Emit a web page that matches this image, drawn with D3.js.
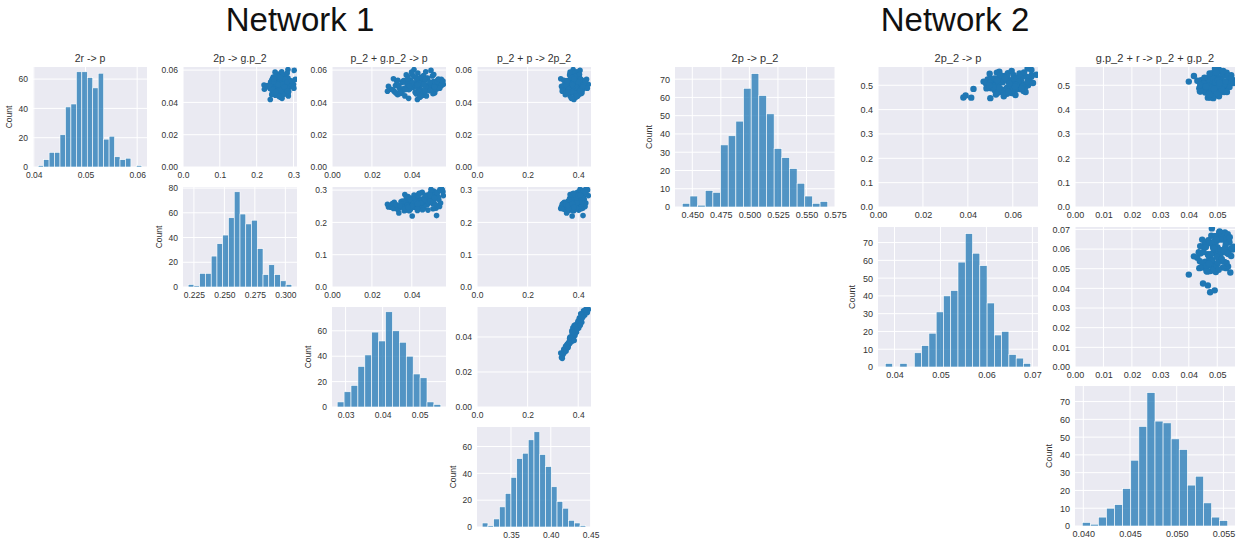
<!DOCTYPE html>
<html>
<head>
<meta charset="utf-8">
<script src="https://cdn.jsdelivr.net/npm/d3@7"></script>
<style>
  body { margin: 0; background: #fff; }
  svg { display: block; }
  text { font-family: Arial, "Liberation Sans", sans-serif; }
</style>
</head>
<body>
<svg id="chart" width="1239" height="542"></svg>
<script>
// ---------- data ----------
const net1Names = ['2r -> p', '2p -> g.p_2', 'p_2 + g.p_2 -> p', 'p_2 + p -> 2p_2'];
const net2Names = ['2p -> p_2', '2p_2 -> p', 'g.p_2 + r -> p_2 + g.p_2'];

// histogram counts, equal-width bins over [binLo, binHi]
const n1Counts = [
  [1, 5, 10, 10, 22, 41, 43, 65, 65, 61, 54, 64, 19, 21, 7, 5, 6, 0, 1],
  [2, 1, 11, 11, 25, 35, 42, 56, 77, 59, 51, 54, 31, 10, 18, 10, 5, 2],
  [4, 12, 17, 32, 41, 59, 52, 75, 60, 51, 40, 26, 23, 4, 2],
  [3, 1, 6, 15, 25, 37, 51, 55, 65, 71, 54, 45, 30, 19, 14, 5, 3, 1]
];
const n1BinRanges = [[0.04085, 0.0609], [0.2203, 0.3053], [0.02773, 0.05573], [0.3138, 0.4440]];

const n2Counts = [
  [2, 6, 1, 9, 8, 34, 39, 47, 65, 73, 61, 51, 32, 27, 21, 13, 6, 2, 3],
  [2, 0, 2, 0, 8, 12, 19, 31, 40, 43, 59, 75, 64, 57, 36, 18, 20, 7, 5, 2],
  [2, 1, 5, 10, 12, 21, 37, 56, 75, 59, 58, 49, 43, 23, 28, 13, 5, 3]
];
const n2BinRanges = [[0.4412, 0.5686], [0.03799, 0.06964], [0.03989, 0.05546]];

// tick labels
const n1HistTicks = [[0.04, 0.05, 0.06], [0.225, 0.25, 0.275, 0.3], [0.03, 0.04, 0.05], [0.35, 0.40, 0.45]];
const n1HistTickFmt = ['.2f', '.3f', '.2f', '.2f'];
const n1ScatterTicks = [[0, 0.02, 0.04, 0.06], [0, 0.1, 0.2, 0.3], [0, 0.02, 0.04], [0, 0.2, 0.4]];
const n1ScatterTickFmt = ['.2f', '.1f', '.2f', '.1f'];
const n1CountTicks = [[0, 20, 40, 60], [0, 20, 40, 60, 80], [0, 20, 40, 60], [0, 20, 40, 60]];

const n2HistTicks = [[0.45, 0.475, 0.5, 0.525, 0.55, 0.575], [0.04, 0.05, 0.06, 0.07], [0.04, 0.045, 0.05, 0.055]];
const n2HistTickFmt = ['.3f', '.2f', '.3f'];
const n2ScatterTicks = [[0, 0.1, 0.2, 0.3, 0.4, 0.5], [0, 0.02, 0.04, 0.06], [0, 0.01, 0.02, 0.03, 0.04, 0.05]];
const n2ScatterYTicks = [[0, 0.1, 0.2, 0.3, 0.4, 0.5], [0, 0.01, 0.02, 0.03, 0.04, 0.05, 0.06, 0.07]];
const n2ScatterTickFmt = ['.1f', '.2f', '.2f'];
const n2CountTicks = [[0, 10, 20, 30, 40, 50, 60, 70], [0, 10, 20, 30, 40, 50, 60, 70], [0, 10, 20, 30, 40, 50, 60, 70]];

// sampled rate constants (one row per sample), read off the scatter clouds
// network 1 columns: 2r -> p, 2p -> g.p_2, p_2 + g.p_2 -> p, p_2 + p -> 2p_2
const n1Samples = [
  [0.0502, 0.274, 0.0420, 0.384], [0.0478, 0.242, 0.0385, 0.371], [0.0531, 0.270, 0.0462, 0.398],
  [0.0455, 0.250, 0.0341, 0.356], [0.0519, 0.288, 0.0497, 0.409], [0.0493, 0.248, 0.0408, 0.379],
  [0.0547, 0.264, 0.0443, 0.386], [0.0468, 0.262, 0.0312, 0.345], [0.0511, 0.244, 0.0521, 0.418],
  [0.0486, 0.272, 0.0432, 0.392], [0.0575, 0.258, 0.0401, 0.374], [0.0440, 0.286, 0.0365, 0.368],
  [0.0506, 0.255, 0.0478, 0.401], [0.0524, 0.266, 0.0352, 0.361], [0.0497, 0.249, 0.0539, 0.427],
  [0.0462, 0.270, 0.0456, 0.392], [0.0538, 0.259, 0.0388, 0.369], [0.0481, 0.247, 0.0296, 0.338],
  [0.0515, 0.247, 0.0415, 0.381], [0.0590, 0.268, 0.0470, 0.395], [0.0452, 0.280, 0.0423, 0.387],
  [0.0529, 0.297, 0.0509, 0.412], [0.0491, 0.245, 0.0337, 0.352], [0.0557, 0.245, 0.0449, 0.389],
  [0.0473, 0.277, 0.0487, 0.406], [0.0509, 0.264, 0.0378, 0.372], [0.0418, 0.237, 0.0428, 0.383],
  [0.0543, 0.305, 0.0548, 0.433], [0.0499, 0.248, 0.0283, 0.334], [0.0466, 0.260, 0.0466, 0.399],
  [0.0534, 0.275, 0.0396, 0.377], [0.0488, 0.279, 0.0531, 0.421], [0.0603, 0.285, 0.0411, 0.380],
  [0.0447, 0.241, 0.0329, 0.349], [0.0517, 0.242, 0.0458, 0.394], [0.0495, 0.289, 0.0437, 0.388],
  [0.0563, 0.259, 0.0503, 0.404], [0.0476, 0.258, 0.0359, 0.363], [0.0528, 0.293, 0.0452, 0.397],
  [0.0459, 0.286, 0.0515, 0.415], [0.0504, 0.254, 0.0318, 0.343], [0.0539, 0.253, 0.0425, 0.382],
  [0.0484, 0.238, 0.0481, 0.402], [0.0570, 0.274, 0.0372, 0.366], [0.0432, 0.265, 0.0440, 0.390],
  [0.0512, 0.300, 0.0553, 0.437], [0.0490, 0.240, 0.0393, 0.375], [0.0549, 0.278, 0.0475, 0.400],
  [0.0470, 0.264, 0.0346, 0.358], [0.0522, 0.255, 0.0518, 0.414], [0.0508, 0.220, 0.0402, 0.376],
  [0.0481, 0.221, 0.0524, 0.419], [0.0582, 0.283, 0.0430, 0.385], [0.0444, 0.251, 0.0463, 0.396],
  [0.0533, 0.243, 0.0324, 0.347], [0.0496, 0.271, 0.0535, 0.424], [0.0461, 0.258, 0.0419, 0.379],
  [0.0526, 0.238, 0.0370, 0.365], [0.0501, 0.290, 0.0492, 0.409], [0.0554, 0.247, 0.0446, 0.391],
  [0.0478, 0.258, 0.0303, 0.340], [0.0515, 0.260, 0.0544, 0.430], [0.0425, 0.269, 0.0384, 0.373],
  [0.0541, 0.282, 0.0468, 0.403], [0.0487, 0.236, 0.0362, 0.360], [0.0566, 0.271, 0.0459, 0.393],
  [0.0453, 0.242, 0.0506, 0.411], [0.0520, 0.272, 0.0405, 0.378], [0.0494, 0.252, 0.0434, 0.389],
  [0.0598, 0.302, 0.0496, 0.407], [0.0469, 0.256, 0.0278, 0.337], [0.0535, 0.290, 0.0527, 0.417],
  [0.0504, 0.229, 0.0335, 0.354], [0.0440, 0.266, 0.0473, 0.398], [0.0558, 0.280, 0.0381, 0.370],
  [0.0512, 0.283, 0.0558, 0.440], [0.0475, 0.261, 0.0449, 0.385], [0.0546, 0.243, 0.0308, 0.331],
  [0.0489, 0.274, 0.0488, 0.410], [0.0508, 0.256, 0.0413, 0.382], [0.0499, 0.266, 0.0441, 0.392],
  [0.0521, 0.251, 0.0398, 0.371], [0.0478, 0.279, 0.0503, 0.413], [0.0535, 0.262, 0.0360, 0.358],
  [0.0463, 0.248, 0.0417, 0.386], [0.0550, 0.285, 0.0479, 0.398], [0.0510, 0.239, 0.0453, 0.379],
  [0.0486, 0.270, 0.0392, 0.366], [0.0527, 0.293, 0.0526, 0.426], [0.0457, 0.257, 0.0347, 0.350],
  [0.0541, 0.275, 0.0465, 0.384], [0.0493, 0.244, 0.0427, 0.393], [0.0572, 0.268, 0.0510, 0.405],
  [0.0468, 0.287, 0.0435, 0.375], [0.0516, 0.253, 0.0376, 0.375], [0.0483, 0.263, 0.0484, 0.414],
  [0.0537, 0.241, 0.0330, 0.343], [0.0505, 0.299, 0.0549, 0.421], [0.0449, 0.272, 0.0451, 0.402],
  [0.0561, 0.258, 0.0409, 0.387], [0.0492, 0.281, 0.0470, 0.389], [0.0530, 0.246, 0.0356, 0.355],
  [0.0474, 0.265, 0.0493, 0.405], [0.0518, 0.290, 0.0438, 0.381], [0.0501, 0.236, 0.0387, 0.380],
  [0.0545, 0.277, 0.0533, 0.410], [0.0458, 0.255, 0.0320, 0.352], [0.0513, 0.269, 0.0461, 0.390],
  [0.0488, 0.301, 0.0540, 0.436], [0.0587, 0.250, 0.0399, 0.368], [0.0437, 0.261, 0.0444, 0.395],
  [0.0526, 0.283, 0.0490, 0.399], [0.0480, 0.243, 0.0368, 0.362], [0.0553, 0.264, 0.0424, 0.376],
  [0.0496, 0.276, 0.0513, 0.418], [0.0465, 0.252, 0.0340, 0.360], [0.0532, 0.295, 0.0556, 0.428],
  [0.0510, 0.258, 0.0429, 0.377], [0.0471, 0.284, 0.0467, 0.408], [0.0544, 0.247, 0.0380, 0.384]
];

// network 2 columns: 2p -> p_2, 2p_2 -> p, g.p_2 + r -> p_2 + g.p_2
const n2Samples = [
  [0.505, 0.0630, 0.0480], [0.492, 0.0485, 0.0465], [0.518, 0.0595, 0.0495], [0.479, 0.0520, 0.0472],
  [0.531, 0.0670, 0.0508], [0.498, 0.0507, 0.0452], [0.512, 0.0583, 0.0518], [0.486, 0.0612, 0.0489],
  [0.524, 0.0488, 0.0476], [0.501, 0.0608, 0.0501], [0.470, 0.0536, 0.0458], [0.540, 0.0684, 0.0527],
  [0.509, 0.0522, 0.0470], [0.495, 0.0636, 0.0535], [0.521, 0.0506, 0.0443], [0.482, 0.0591, 0.0496],
  [0.549, 0.0578, 0.0483], [0.503, 0.0649, 0.0512], [0.488, 0.0503, 0.0437], [0.515, 0.0594, 0.0541],
  [0.460, 0.0612, 0.0485], [0.527, 0.0499, 0.0462], [0.497, 0.0587, 0.0503], [0.534, 0.0542, 0.0475],
  [0.476, 0.0648, 0.0521], [0.511, 0.0512, 0.0448], [0.490, 0.0574, 0.0467], [0.545, 0.0636, 0.0494],
  [0.507, 0.0481, 0.0546], [0.468, 0.0595, 0.0509], [0.519, 0.0556, 0.0430], [0.500, 0.0668, 0.0479],
  [0.556, 0.0540, 0.0515], [0.484, 0.0632, 0.0456], [0.513, 0.0503, 0.0531], [0.494, 0.0596, 0.0490],
  [0.529, 0.0570, 0.0468], [0.447, 0.0500, 0.0486], [0.508, 0.0511, 0.0538], [0.474, 0.0578, 0.0441],
  [0.537, 0.0643, 0.0499], [0.502, 0.0489, 0.0462], [0.522, 0.0597, 0.0554], [0.489, 0.0524, 0.0474],
  [0.563, 0.0683, 0.0507], [0.496, 0.0506, 0.0520], [0.516, 0.0584, 0.0435], [0.481, 0.0610, 0.0497],
  [0.543, 0.0705, 0.0481], [0.504, 0.0608, 0.0528], [0.450, 0.0380, 0.0475], [0.458, 0.0390, 0.0491],
  [0.449, 0.0415, 0.0467], [0.485, 0.0425, 0.0450], [0.515, 0.0470, 0.0400], [0.538, 0.0563, 0.0418],
  [0.472, 0.0657, 0.0524], [0.526, 0.0528, 0.0458], [0.493, 0.0635, 0.0543], [0.510, 0.0502, 0.0487],
  [0.478, 0.0589, 0.0510], [0.532, 0.0571, 0.0500], [0.499, 0.0648, 0.0447], [0.552, 0.0529, 0.0533],
  [0.465, 0.0574, 0.0478], [0.520, 0.0636, 0.0464], [0.487, 0.0483, 0.0495], [0.541, 0.0604, 0.0549],
  [0.506, 0.0530, 0.0483], [0.491, 0.0654, 0.0512], [0.528, 0.0519, 0.0470], [0.455, 0.0560, 0.0506],
  [0.517, 0.0675, 0.0537], [0.483, 0.0611, 0.0452], [0.547, 0.0497, 0.0488], [0.509, 0.0612, 0.0558],
  [0.475, 0.0538, 0.0439], [0.535, 0.0682, 0.0516], [0.497, 0.0517, 0.0498], [0.569, 0.0666, 0.0492],
  [0.512, 0.0555, 0.0472], [0.488, 0.0590, 0.0503], [0.531, 0.0620, 0.0455], [0.503, 0.0535, 0.0525],
  [0.479, 0.0600, 0.0490], [0.524, 0.0570, 0.0510], [0.497, 0.0645, 0.0469], [0.541, 0.0545, 0.0482],
  [0.468, 0.0560, 0.0499], [0.516, 0.0625, 0.0530], [0.492, 0.0515, 0.0461], [0.535, 0.0660, 0.0544],
  [0.506, 0.0585, 0.0452], [0.483, 0.0550, 0.0516], [0.527, 0.0605, 0.0486], [0.499, 0.0495, 0.0505],
  [0.548, 0.0630, 0.0473], [0.472, 0.0580, 0.0534], [0.514, 0.0665, 0.0494], [0.490, 0.0540, 0.0479],
  [0.559, 0.0595, 0.0521], [0.501, 0.0615, 0.0440], [0.521, 0.0530, 0.0502], [0.486, 0.0640, 0.0489],
  [0.538, 0.0575, 0.0539], [0.462, 0.0525, 0.0471], [0.509, 0.0690, 0.0508], [0.530, 0.0565, 0.0549],
  [0.495, 0.0610, 0.0460], [0.553, 0.0650, 0.0496]
];

// ---------- drawing ----------
const svg = d3.select('#chart');
const BG = '#eaeaf2';
const BLUE = '#1f77b4';
const TXT = '#333333';
let clipId = 0;

function styleAxis(sel, fontSize) {
  sel.select('.domain').remove();
  sel.selectAll('text').attr('fill', TXT).style('font-size', fontSize + 'px');
}

function drawNetwork(cfg) {
  const n = cfg.names.length;
  // axis limits: bins plus 5% margin, like matplotlib
  const lims = cfg.binRanges.map(b => {
    const pad = (b[1] - b[0]) * 0.05;
    return [b[0] - pad, b[1] + pad];
  });

  svg.append('text')
    .attr('x', cfg.titleX).attr('y', 31)
    .attr('text-anchor', 'middle')
    .attr('fill', '#111')
    .style('font-size', '33px')
    .text(cfg.title);

  for (let i = 0; i < n; i++) {
    for (let j = i; j < n; j++) {
      const w = cfg.w, h = cfg.h;
      const g = svg.append('g').attr('transform', `translate(${cfg.left[j]},${cfg.top[i]})`);
      g.append('rect').attr('width', w).attr('height', h).attr('fill', BG);

      let x, y, xTicks, yTicks, xFmt, yFmt;
      if (i === j) {
        const counts = cfg.counts[i];
        x = d3.scaleLinear().domain(lims[i]).range([0, w]);
        y = d3.scaleLinear().domain([0, d3.max(counts) * 1.05]).range([h, 0]);
        xTicks = cfg.histTicks[i]; xFmt = cfg.histFmt[i];
        yTicks = cfg.countTicks[i]; yFmt = 'd';
      } else {
        x = d3.scaleLinear().domain([0, lims[j][1]]).range([0, w]);
        y = d3.scaleLinear().domain([0, lims[i][1]]).range([h, 0]);
        xTicks = cfg.scatterXTicks[j]; xFmt = cfg.scatterFmt[j];
        yTicks = cfg.scatterYTicks[i]; yFmt = cfg.scatterFmt[i];
      }

      // white grid
      g.append('g').selectAll('line').data(xTicks).join('line')
        .attr('x1', d => x(d)).attr('x2', d => x(d)).attr('y1', 0).attr('y2', h)
        .attr('stroke', '#fff').attr('stroke-width', 1);
      g.append('g').selectAll('line').data(yTicks).join('line')
        .attr('x1', 0).attr('x2', w).attr('y1', d => y(d)).attr('y2', d => y(d))
        .attr('stroke', '#fff').attr('stroke-width', 1);

      if (i === j) {
        const counts = cfg.counts[i];
        const [lo, hi] = cfg.binRanges[i];
        const bw = (hi - lo) / counts.length;
        const bins = counts.map((c, k) => ({ x0: lo + k * bw, x1: lo + (k + 1) * bw, c }));
        g.append('g').selectAll('rect').data(bins.filter(b => b.c > 0)).join('rect')
          .attr('x', d => x(d.x0)).attr('width', d => x(d.x1) - x(d.x0))
          .attr('y', d => y(d.c)).attr('height', d => y(0) - y(d.c))
          .attr('fill', BLUE).attr('fill-opacity', 0.75)
          .attr('stroke', '#fff').attr('stroke-width', 0.6);

        g.append('text')
          .attr('transform', `translate(${-cfg.countOffset},${h / 2}) rotate(-90)`)
          .attr('text-anchor', 'middle')
          .attr('fill', TXT)
          .style('font-size', cfg.tickFont + 'px')
          .text('Count');
      } else {
        const id = 'clip' + (clipId++);
        g.append('clipPath').attr('id', id)
          .append('rect').attr('width', w).attr('height', h);
        g.append('g').attr('clip-path', `url(#${id})`)
          .selectAll('circle').data(cfg.samples).join('circle')
          .attr('cx', d => x(d[j])).attr('cy', d => y(d[i]))
          .attr('r', cfg.dotR)
          .attr('fill', BLUE);
      }

      g.append('g').attr('transform', `translate(0,${h})`)
        .call(d3.axisBottom(x).tickValues(xTicks).tickFormat(d3.format(xFmt)).tickSize(0).tickPadding(5))
        .call(s => styleAxis(s, cfg.tickFont));
      g.append('g')
        .call(d3.axisLeft(y).tickValues(yTicks).tickFormat(d3.format(yFmt)).tickSize(0).tickPadding(5))
        .call(s => styleAxis(s, cfg.tickFont));

      if (i === 0) {
        g.append('text')
          .attr('x', w / 2).attr('y', -5)
          .attr('text-anchor', 'middle')
          .attr('fill', TXT)
          .style('font-size', cfg.titleFont + 'px')
          .text(cfg.names[j]);
      }
    }
  }
}

drawNetwork({
  title: 'Network 1', titleX: 300,
  names: net1Names, counts: n1Counts, binRanges: n1BinRanges, samples: n1Samples,
  histTicks: n1HistTicks, histFmt: n1HistTickFmt,
  scatterXTicks: n1ScatterTicks, scatterYTicks: n1ScatterTicks, scatterFmt: n1ScatterTickFmt,
  countTicks: n1CountTicks,
  left: [33, 183, 332, 477], top: [67, 187, 307, 427], w: 114, h: 100,
  tickFont: 8.5, titleFont: 10.5, countOffset: 21, dotR: 2.8
});

drawNetwork({
  title: 'Network 2', titleX: 955,
  names: net2Names, counts: n2Counts, binRanges: n2BinRanges, samples: n2Samples,
  histTicks: n2HistTicks, histFmt: n2HistTickFmt,
  scatterXTicks: n2ScatterTicks, scatterYTicks: n2ScatterYTicks, scatterFmt: n2ScatterTickFmt,
  countTicks: n2CountTicks,
  left: [675, 878, 1075], top: [67, 227, 386], w: 160, h: 140,
  tickFont: 9, titleFont: 11, countOffset: 23, dotR: 3.2
});
</script>
</body>
</html>
